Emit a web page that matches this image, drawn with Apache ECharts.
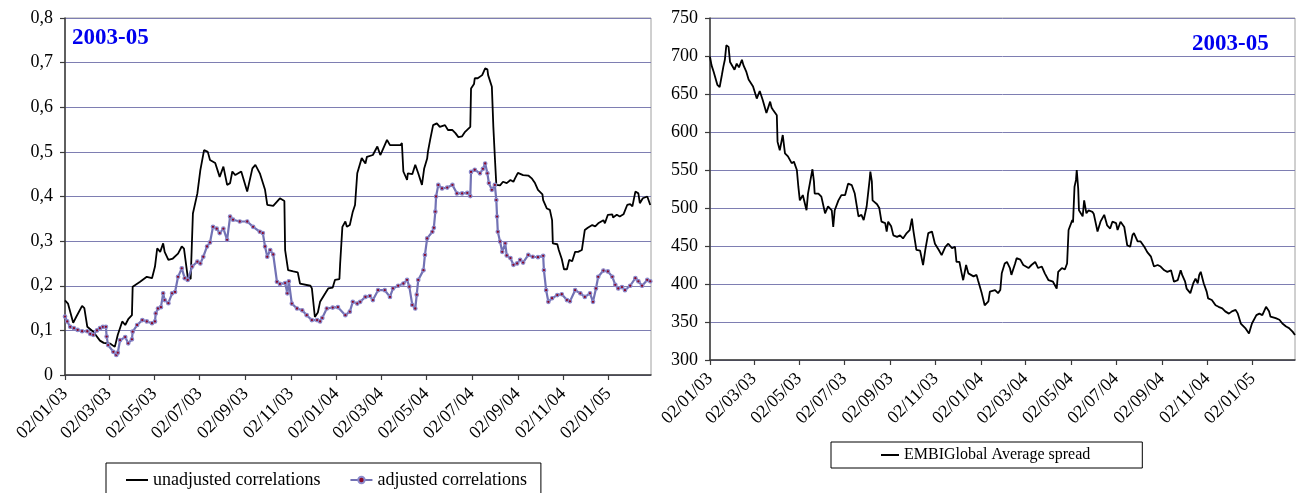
<!DOCTYPE html>
<html>
<head>
<meta charset="utf-8">
<script src="https://cdn.jsdelivr.net/npm/echarts@6/dist/echarts.min.js"></script>
<style>
  html, body { margin: 0; padding: 0; background: #fff; }
  #chart { width: 1300px; height: 493px; }
</style>
</head>
<body>
<div id="chart"></div>
<script>
// Dates on the x axis are counted in days after 02/01/2003 (dd/mm/yy).
const START_DATE = '02/01/03';
const END_DAY = 788; // 28/02/2005

const tickLabels = ['02/01/03', '02/03/03', '02/05/03', '02/07/03', '02/09/03', '02/11/03',
  '02/01/04', '02/03/04', '02/05/04', '02/07/04', '02/09/04', '02/11/04', '02/01/05'];

// [day, correlation]
const unadjusted = [
  [0,0.167],[4,0.16],[11,0.117],[15,0.13],[23,0.155],[26,0.15],[30,0.108],[38,0.097],[47,0.077],[52,0.072],
  [61,0.07],[67,0.063],[71,0.09],[77,0.12],[81,0.112],[85,0.125],[90,0.134],[91,0.198],[101,0.209],[110,0.22],
  [117,0.217],[121,0.243],[124,0.284],[128,0.276],[132,0.295],[134,0.276],[139,0.258],[145,0.261],[152,0.272],[157,0.288],
  [160,0.283],[165,0.22],[169,0.215],[172,0.362],[178,0.407],[182,0.459],[187,0.504],[192,0.5],[195,0.482],[202,0.475],
  [208,0.444],[213,0.467],[218,0.426],[222,0.43],[225,0.456],[229,0.448],[231,0.452],[237,0.456],[245,0.411],[252,0.463],
  [256,0.471],[262,0.452],[269,0.415],[272,0.381],[280,0.379],[289,0.396],[295,0.39],[296,0.28],[300,0.235],[307,0.232],
  [313,0.23],[316,0.205],[330,0.2],[332,0.194],[336,0.13],[340,0.14],[343,0.164],[350,0.183],[354,0.194],[360,0.196],
  [363,0.213],[369,0.215],[370,0.25],[373,0.332],[377,0.344],[379,0.332],[383,0.336],[387,0.366],[390,0.381],[393,0.452],
  [399,0.486],[404,0.474],[406,0.489],[414,0.493],[420,0.512],[424,0.493],[426,0.5],[433,0.527],[437,0.515],[451,0.515],
  [453,0.52],[455,0.456],[460,0.437],[461,0.452],[467,0.45],[471,0.471],[473,0.471],[475,0.452],[480,0.426],[483,0.463],
  [487,0.485],[488,0.5],[491,0.527],[495,0.56],[500,0.564],[504,0.556],[511,0.56],[515,0.549],[521,0.549],[525,0.542],
  [529,0.533],[534,0.535],[538,0.545],[545,0.556],[546,0.642],[550,0.652],[551,0.665],[555,0.665],[561,0.672],[565,0.687],
  [568,0.685],[569,0.672],[574,0.646],[576,0.556],[578,0.489],[580,0.426],[585,0.425],[589,0.433],[594,0.43],[599,0.437],
  [603,0.433],[605,0.44],[609,0.453],[616,0.448],[623,0.447],[628,0.44],[632,0.43],[636,0.415],[639,0.41],[642,0.405],
  [643,0.392],[648,0.373],[652,0.37],[655,0.347],[656,0.295],[662,0.293],[664,0.28],[668,0.26],[671,0.237],[675,0.237],
  [678,0.258],[682,0.255],[686,0.276],[690,0.276],[695,0.28],[699,0.325],[703,0.33],[709,0.336],[713,0.333],[717,0.34],
  [724,0.347],[726,0.34],[730,0.359],[736,0.36],[737,0.353],[742,0.359],[746,0.355],[751,0.36],[756,0.381],[760,0.383],
  [763,0.378],[767,0.411],[771,0.407],[773,0.385],[777,0.396],[783,0.4],[787,0.381]
];

// [day, correlation]
const adjusted = [
  [0,0.131],[3,0.12],[7,0.108],[12,0.105],[17,0.101],[23,0.098],[30,0.098],[34,0.092],[38,0.09],[43,0.1],
  [47,0.105],[51,0.108],[55,0.108],[56,0.086],[58,0.067],[65,0.052],[69,0.045],[71,0.05],[74,0.078],[81,0.085],
  [85,0.071],[90,0.08],[91,0.097],[97,0.112],[104,0.123],[110,0.12],[117,0.116],[121,0.12],[122,0.138],[125,0.149],
  [129,0.152],[132,0.183],[134,0.168],[139,0.161],[144,0.183],[148,0.186],[152,0.22],[157,0.239],[161,0.217],[165,0.213],
  [171,0.243],[178,0.254],[182,0.25],[186,0.265],[191,0.288],[195,0.297],[199,0.332],[204,0.328],[208,0.318],[213,0.328],
  [218,0.303],[222,0.355],[226,0.348],[235,0.344],[245,0.344],[253,0.332],[262,0.321],[266,0.318],[269,0.288],[272,0.265],
  [276,0.28],[280,0.27],[285,0.209],[289,0.204],[296,0.206],[299,0.183],[301,0.21],[305,0.16],[312,0.149],[319,0.145],
  [325,0.134],[332,0.123],[339,0.123],[343,0.12],[346,0.128],[352,0.149],[360,0.151],[367,0.152],[377,0.134],[383,0.142],
  [387,0.164],[393,0.16],[397,0.164],[404,0.175],[410,0.177],[414,0.168],[421,0.19],[430,0.19],[437,0.175],[441,0.194],
  [448,0.2],[455,0.205],[460,0.213],[463,0.198],[467,0.157],[471,0.149],[473,0.18],[475,0.213],[482,0.235],[484,0.269],
  [487,0.306],[494,0.321],[496,0.33],[498,0.366],[499,0.4],[502,0.426],[507,0.418],[514,0.42],[521,0.426],[527,0.407],
  [534,0.407],[541,0.408],[545,0.401],[546,0.455],[551,0.46],[558,0.452],[562,0.462],[565,0.474],[568,0.452],[570,0.43],
  [574,0.415],[578,0.426],[580,0.392],[581,0.355],[582,0.321],[585,0.299],[588,0.276],[592,0.295],[594,0.268],[599,0.262],
  [603,0.247],[608,0.25],[612,0.258],[616,0.252],[623,0.269],[629,0.265],[636,0.264],[643,0.267],[644,0.235],[647,0.19],
  [650,0.164],[655,0.172],[662,0.179],[668,0.181],[675,0.168],[679,0.165],[686,0.19],[693,0.183],[699,0.175],[706,0.183],
  [710,0.164],[714,0.194],[717,0.22],[724,0.234],[730,0.232],[736,0.22],[740,0.202],[744,0.194],[749,0.197],[753,0.19],
  [760,0.2],[767,0.217],[771,0.21],[776,0.2],[783,0.213],[787,0.21]
];

// [day, spread in basis points]
const embiSpread = [
  [0,699],[2,688],[5,679],[10,662],[13,659],[16,675],[18,686],[20,695],[22,714],[25,712],
  [27,692],[33,682],[36,690],[39,685],[43,695],[45,688],[49,679],[52,669],[58,660],[63,644],
  [67,654],[71,642],[76,625],[81,640],[83,632],[85,629],[90,622],[91,587],[94,576],[98,596],
  [101,572],[105,568],[110,559],[113,561],[117,550],[119,528],[121,510],[125,517],[130,497],[132,519],
  [135,535],[138,551],[140,535],[141,519],[146,519],[150,515],[155,493],[159,502],[164,497],[166,475],
  [168,497],[173,510],[177,517],[182,517],[186,532],[191,530],[195,519],[200,489],[204,491],[207,484],
  [211,502],[215,537],[216,548],[218,535],[219,510],[225,505],[228,500],[231,482],[236,480],[238,469],
  [240,482],[244,476],[247,464],[252,462],[256,464],[260,460],[265,467],[269,471],[272,486],[274,470],
  [276,471],[278,445],[283,444],[287,425],[290,445],[292,444],[294,467],[299,469],[303,453],[308,445],
  [312,438],[314,436],[317,449],[321,453],[326,447],[330,449],[332,429],[336,429],[339,414],[341,405],
  [345,425],[348,414],[355,410],[359,412],[361,405],[366,388],[370,372],[375,377],[377,390],[384,392],
  [388,388],[391,392],[393,414],[397,427],[400,429],[404,421],[406,412],[411,427],[413,434],[418,432],
  [422,425],[429,421],[433,425],[438,429],[442,421],[447,423],[451,414],[456,405],[462,403],[467,394],
  [469,416],[474,421],[478,419],[481,427],[483,471],[488,484],[489,481],[491,528],[493,537],[494,550],
  [496,525],[497,497],[502,489],[504,510],[507,493],[510,497],[515,495],[517,492],[522,469],[526,482],
  [531,491],[535,477],[539,473],[542,482],[547,480],[549,471],[553,482],[558,475],[562,451],[566,449],
  [569,464],[571,467],[576,456],[580,456],[585,449],[589,442],[594,436],[598,423],[603,425],[607,423],
  [612,418],[616,416],[621,418],[625,403],[630,405],[634,418],[636,412],[640,403],[642,394],[647,388],
  [649,390],[651,401],[654,407],[657,401],[659,412],[661,416],[665,401],[669,390],[671,381],[676,379],
  [681,372],[685,370],[690,368],[694,364],[699,361],[703,364],[708,366],[711,361],[715,348],[721,342],
  [726,335],[730,348],[736,359],[740,361],[744,359],[749,370],[753,364],[755,357],[762,355],[767,353],
  [771,348],[776,344],[780,342],[785,337],[788,333]
];

const FONT = '"Liberation Serif", "Times New Roman", serif';
const DAY_MS = 86400000;

function parseDMY(s) {
  const [d, m, y] = s.split('/').map(Number);
  return Date.UTC(2000 + y, m - 1, d);
}
const t0 = parseDMY(START_DATE);
const tickDays = tickLabels.map(s => Math.round((parseDMY(s) - t0) / DAY_MS));
const labelOfDay = {};
tickDays.forEach((d, i) => { labelOfDay[d] = tickLabels[i]; });

function xAxisFor(gridIndex) {
  return {
    type: 'value',
    gridIndex: gridIndex,
    min: 0,
    max: END_DAY,
    splitLine: { show: false },
    axisLine: { onZero: false, lineStyle: { color: '#3a3a3a', width: 1.5 } },
    axisTick: { customValues: tickDays, length: 5, inside: false, lineStyle: { color: '#3a3a3a', width: 1.2 } },
    axisLabel: {
      customValues: tickDays,
      formatter: v => labelOfDay[v] || '',
      rotate: 45,
      margin: 16,
      color: '#000',
      fontFamily: FONT,
      fontSize: 18
    }
  };
}

function yAxisFor(gridIndex, min, max, interval, fmt) {
  return {
    type: 'value',
    gridIndex: gridIndex,
    min: min,
    max: max,
    interval: interval,
    axisLine: { show: true, lineStyle: { color: '#3a3a3a', width: 1.5 } },
    axisTick: { show: true, length: 5, lineStyle: { color: '#3a3a3a', width: 1.2 } },
    splitLine: { show: true, lineStyle: { color: '#7e7eb2', width: 1 } },
    axisLabel: {
      formatter: fmt,
      margin: 12,
      color: '#000',
      fontFamily: FONT,
      fontSize: 18
    }
  };
}

const chart = echarts.init(document.getElementById('chart'), null, { renderer: 'canvas' });

chart.setOption({
  animation: false,
  backgroundColor: '#fff',
  title: [
    { text: '2003-05', left: 72, top: 27, padding: 0,
      textStyle: { color: '#0000ee', fontFamily: FONT, fontWeight: 'bold', fontSize: 23 } },
    { text: '2003-05', left: 1192, top: 33, padding: 0,
      textStyle: { color: '#0000ee', fontFamily: FONT, fontWeight: 'bold', fontSize: 23 } }
  ],
  grid: [
    { left: 65, top: 18, width: 586, height: 357, show: true, borderColor: '#a0a0a0', borderWidth: 1, backgroundColor: 'transparent' },
    { left: 710, top: 18, width: 585, height: 342, show: true, borderColor: '#a0a0a0', borderWidth: 1, backgroundColor: 'transparent' }
  ],
  xAxis: [xAxisFor(0), xAxisFor(1)],
  yAxis: [
    yAxisFor(0, 0, 0.8, 0.1, v => (v === 0 ? '0' : v.toFixed(1).replace('.', ','))),
    yAxisFor(1, 300, 750, 50, v => String(v))
  ],
  legend: [
    {
      data: [
        { name: 'unadjusted correlations', itemStyle: { opacity: 0 } },
        { name: 'adjusted correlations' }
      ],
      left: 106, top: 463,
      padding: [8, 14, 20, 19],
      itemGap: 29,
      itemWidth: 22, itemHeight: 8,
      borderColor: '#000', borderWidth: 1,
      backgroundColor: '#fff',
      textStyle: { color: '#000', fontFamily: FONT, fontSize: 18 }
    },
    {
      data: [{ name: 'EMBIGlobal Average spread', itemStyle: { opacity: 0 } }],
      left: 831, top: 442,
      padding: [5, 52, 5, 49],
      itemWidth: 18, itemHeight: 12,
      borderColor: '#000', borderWidth: 1,
      backgroundColor: '#fff',
      textStyle: { color: '#000', fontFamily: FONT, fontSize: 16 }
    }
  ],
  series: [
    {
      name: 'unadjusted correlations',
      type: 'line',
      xAxisIndex: 0, yAxisIndex: 0,
      data: unadjusted,
      symbol: 'none',
      lineStyle: { color: '#000', width: 1.8 },
      itemStyle: { color: '#000' },
      z: 3
    },
    {
      name: 'adjusted correlations',
      type: 'line',
      xAxisIndex: 0, yAxisIndex: 0,
      data: adjusted,
      symbol: 'circle',
      symbolSize: 3.5,
      showSymbol: true,
      lineStyle: { color: '#7272b4', width: 2.2 },
      itemStyle: { color: '#8b0a2a', borderColor: '#8a8acc', borderWidth: 1.2 },
      z: 4
    },
    {
      name: 'EMBIGlobal Average spread',
      type: 'line',
      xAxisIndex: 1, yAxisIndex: 1,
      data: embiSpread,
      symbol: 'none',
      lineStyle: { color: '#000', width: 1.8 },
      itemStyle: { color: '#000' },
      z: 3
    }
  ]
});
</script>
</body>
</html>
